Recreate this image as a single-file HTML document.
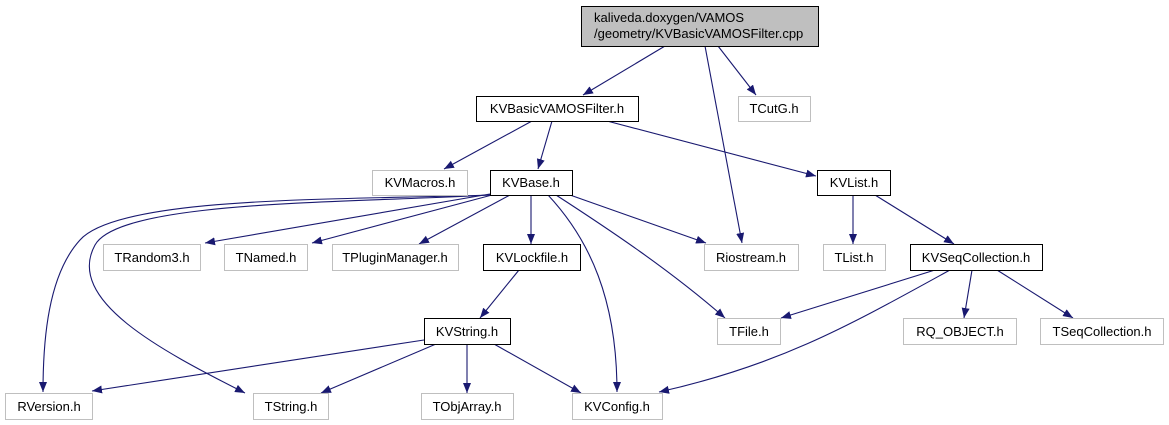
<!DOCTYPE html>
<html><head><meta charset="utf-8"><style>
html,body{margin:0;padding:0;background:#fff;}
svg{display:block;}
text{font-family:"Liberation Sans",sans-serif;font-size:13px;fill:#000;text-anchor:middle;}
</style></head><body>
<svg width="1169" height="425" viewBox="0 0 1169 425">
<defs>
<marker id="a" markerUnits="userSpaceOnUse" markerWidth="12" markerHeight="10" refX="10" refY="4" orient="auto">
<path d="M0,0 L10,4 L0,8 z" fill="#191970"/>
</marker>
</defs>
<g stroke="#191970" stroke-width="1.1" fill="none" marker-end="url(#a)">
<path d="M665,46 L583,95"/>
<path d="M705,46 L742,243"/>
<path d="M718,46 L756,95"/>
<path d="M532,121 L444,169"/>
<path d="M552,121 L538,169"/>
<path d="M607,121 L816,176"/>
<path d="M490,194 L205,243"/>
<path d="M492,195 L312,243"/>
<path d="M510,195 L419,244"/>
<path d="M531,195 L531,244"/>
<path d="M570,195 L706,243"/>
<path d="M556,195 C610,230 670,270 725,318"/>
<path d="M548,195 C590,240 617,300 617,392"/>
<path d="M490,195 C350,200 120,195 80,240 C48,275 43,340 43,392"/>
<path d="M490,195 C350,203 120,200 95,245 C65,300 160,350 245,393"/>
<path d="M519,270 L480,318"/>
<path d="M424,340 L92,391"/>
<path d="M436,344 L321,393"/>
<path d="M467,344 L467,393"/>
<path d="M494,344 L581,393"/>
<path d="M853,195 L853,244"/>
<path d="M875,195 L954,244"/>
<path d="M935,270 L781,318"/>
<path d="M950,270 C850,325 780,365 659,392"/>
<path d="M972,270 L964,318"/>
<path d="M997,270 L1073,318"/>
</g>
<g stroke-width="1">
<rect x="581.5" y="6.5" width="237" height="40" fill="#bfbfbf" stroke="#000"/>
<g fill="#fff" stroke="#000">
<rect x="476.5" y="96.5" width="162" height="25"/>
<rect x="490.5" y="170.5" width="82" height="25"/>
<rect x="817.5" y="170.5" width="73" height="25"/>
<rect x="483.5" y="244.5" width="97" height="26"/>
<rect x="910.5" y="244.5" width="132" height="26"/>
<rect x="424.5" y="318.5" width="86" height="26"/>
</g>
<g fill="#fff" stroke="#bfbfbf">
<rect x="738.5" y="96.5" width="72" height="25"/>
<rect x="372.5" y="170.5" width="95" height="25"/>
<rect x="103.5" y="244.5" width="97" height="26"/>
<rect x="224.5" y="244.5" width="83" height="26"/>
<rect x="332.5" y="244.5" width="126" height="26"/>
<rect x="704.5" y="244.5" width="94" height="26"/>
<rect x="823.5" y="244.5" width="62" height="26"/>
<rect x="717.5" y="318.5" width="63" height="26"/>
<rect x="903.5" y="318.5" width="113" height="26"/>
<rect x="1040.5" y="318.5" width="123" height="26"/>
<rect x="5.5" y="393.5" width="87" height="26"/>
<rect x="253.5" y="393.5" width="75" height="26"/>
<rect x="421.5" y="393.5" width="92" height="26"/>
<rect x="572.5" y="393.5" width="90" height="26"/>
</g>
</g>
<text x="594" y="22" style="text-anchor:start">kaliveda.doxygen/VAMOS</text>
<text x="594" y="38" style="text-anchor:start">/geometry/KVBasicVAMOSFilter.cpp</text>
<text x="557" y="113">KVBasicVAMOSFilter.h</text>
<text x="774" y="113">TCutG.h</text>
<text x="420" y="187">KVMacros.h</text>
<text x="531" y="187">KVBase.h</text>
<text x="854" y="187">KVList.h</text>
<text x="152" y="262">TRandom3.h</text>
<text x="266" y="262">TNamed.h</text>
<text x="395" y="262">TPluginManager.h</text>
<text x="532" y="262">KVLockfile.h</text>
<text x="751" y="262">Riostream.h</text>
<text x="854" y="262">TList.h</text>
<text x="976" y="262">KVSeqCollection.h</text>
<text x="467" y="336">KVString.h</text>
<text x="749" y="336">TFile.h</text>
<text x="960" y="336">RQ_OBJECT.h</text>
<text x="1102" y="336">TSeqCollection.h</text>
<text x="49" y="411">RVersion.h</text>
<text x="291" y="411">TString.h</text>
<text x="467" y="411">TObjArray.h</text>
<text x="617" y="411">KVConfig.h</text>
</svg>
</body></html>
